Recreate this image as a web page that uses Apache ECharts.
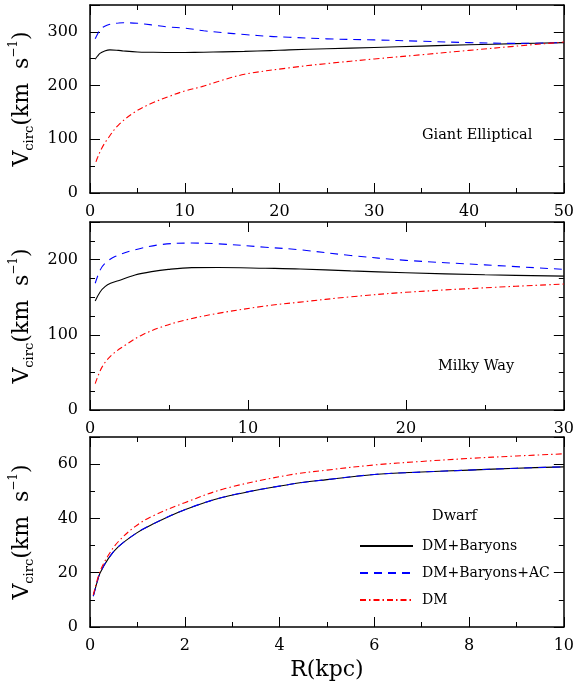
<!DOCTYPE html>
<html>
<head>
<meta charset="utf-8">
<script src="https://cdn.jsdelivr.net/npm/echarts@6/dist/echarts.min.js"></script>
<style>
html,body{margin:0;padding:0;background:#fff;}
#c{width:577px;height:686px;}
</style>
</head>
<body>
<div id="c"></div>
<script>
// ---- Data ----
const seriesNames = ['DM+Baryons', 'DM+Baryons+AC', 'DM'];
const panelLabels = ['Giant Elliptical', 'Milky Way', 'Dwarf'];

// Giant Elliptical
const geBaryonsR = [0.55, 0.8, 1.05, 1.5, 2.1, 3, 3.5, 5, 6.5, 8.3, 10, 12, 14, 16.3, 19, 21, 25, 30, 35, 40, 45, 50];
const geBaryonsV = [249, 255, 260, 264, 266.5, 265.5, 264.5, 262.5, 262, 261.7, 261.7, 262, 262.8, 263.6, 265, 266.5, 268.5, 271, 273.5, 276, 278, 280];
const geACR = [0.55, 0.8, 1.05, 1.5, 2.1, 3, 3.5, 5, 6.5, 8.3, 10, 12, 14, 16.3, 19, 21, 25, 30, 35, 40, 45, 50];
const geACV = [287, 296, 304, 310, 314, 316.5, 317, 316, 313, 309, 307, 302, 298.5, 295, 291.5, 290, 287, 285, 282.5, 280, 278.5, 280];
const geDMR = [0.63, 0.8, 1.23, 1.83, 3, 4.75, 6.5, 8.3, 10, 11.8, 13.5, 16.3, 21, 25, 30, 35, 40, 45, 50];
const geDMV = [58, 66, 83, 100, 126.5, 151, 167, 179.5, 190, 198, 207.5, 221, 233, 241, 249.5, 257.5, 265.5, 273.5, 281];

// Milky Way
const mwBaryonsR = [0.33, 0.64, 0.95, 1.3, 1.79, 2.85, 3.9, 4.96, 6.44, 8.1, 11.1, 13.3, 16.5, 20, 25, 30];
const mwBaryonsV = [145, 157, 164, 168.5, 172, 179.5, 184, 187, 189.3, 189.5, 188.5, 187.6, 185, 182.5, 179.8, 178];
const mwACR = [0.33, 0.64, 0.95, 1.58, 2.85, 4.5, 6.44, 8.1, 11.1, 13.3, 16.5, 20, 25, 30];
const mwACV = [168.5, 186, 195, 204, 213, 220, 222, 221, 216.5, 213, 205.5, 199, 193, 187];
const mwDMR = [0.33, 0.76, 1.37, 2.22, 3.27, 4.54, 6, 8.1, 11.1, 13.3, 16.5, 20, 25, 30];
const mwDMV = [35, 57, 73, 86, 99.5, 110.5, 119.5, 128.5, 138.3, 143.5, 150.5, 156.5, 162.5, 167.5];

// Dwarf
const dwBaryonsR = [0.07, 0.15, 0.21, 0.39, 0.6, 0.98, 1.3, 2, 2.85, 4.2, 5, 6, 7, 8, 9, 10];
const dwBaryonsV = [11.4, 16.5, 19.8, 25.3, 29.6, 34.6, 37.7, 43.2, 48, 52.5, 54.3, 56.2, 57.1, 57.8, 58.5, 59];
const dwACR = [0.07, 0.15, 0.21, 0.39, 0.6, 0.98, 1.3, 2, 2.85, 4.2, 5, 6, 7, 8, 9, 10];
const dwACV = [11.4, 16.5, 19.8, 25.3, 29.6, 34.6, 37.7, 43.2, 48, 52.5, 54.3, 56.2, 57.1, 57.8, 58.5, 59];
const dwDMR = [0.07, 0.21, 0.39, 0.6, 0.95, 1.3, 2, 2.85, 4.2, 5, 6, 7, 8, 9, 10];
const dwDMV = [11.8, 20.4, 26.5, 31.5, 37, 40.7, 45.8, 51, 56, 57.8, 59.7, 61, 62.1, 63, 63.8];

// Axis ranges / ticks
const xMax = [50, 30, 10];
const xMajor = [10, 10, 2];
const yMax = [350, 250, 70];
const yMajor = [100, 100, 20];
const yMinor = [50, 25, 10];

// ---- Chart ----
const FONT = 'DejaVu Serif';
const pair = (r, v) => r.map((x, i) => [x, v[i]]);
const AX = () => ({color: '#000', width: 1.5});
const TK = () => ({color: '#000', width: 1});

const grids = [
  {left: 90, width: 474, top: 5, height: 188},
  {left: 90, width: 474, top: 222, height: 188},
  {left: 90, width: 474, top: 437, height: 190}
];

const xAxis = [];
const yAxis = [];
for (let g = 0; g < 3; g++) {
  const mkX = (pos) => ({type: 'value', gridIndex: g, position: pos, min: 0, max: xMax[g], interval: xMajor[g],
    splitLine: {show: false}, minorSplitLine: {show: false},
    axisLine: {show: true, onZero: false, lineStyle: AX()},
    axisTick: {show: true, inside: true, length: 10, lineStyle: TK()},
    minorTick: {show: true, splitNumber: 2, length: 5, lineStyle: TK()}});
  const bottom = mkX('bottom');
  bottom.axisLabel = {margin: 11, color: '#000', fontFamily: FONT, fontSize: 16};
  if (g === 2) {
    Object.assign(bottom, {name: 'R(kpc)', nameLocation: 'middle', nameGap: 32,
      nameTextStyle: {fontFamily: FONT, fontSize: 22, color: '#000'}});
  }
  const top = mkX('top');
  top.axisLabel = {show: false};
  xAxis.push(bottom, top);

  const maj = yMajor[g];
  const mkY = (pos, interval, len, line) => ({type: 'value', gridIndex: g, position: pos,
    min: 0, max: yMax[g], interval: interval,
    splitLine: {show: false},
    axisLine: {show: line, onZero: false, lineStyle: AX()},
    axisTick: {show: true, inside: true, length: len, lineStyle: TK()},
    axisLabel: {show: false}});
  const yl = mkY('left', yMinor[g], 5, true);
  yl.axisLabel = {show: true, margin: 12, color: '#000', fontFamily: FONT, fontSize: 16,
    formatter: v => (v % maj === 0 ? String(v) : '')};
  Object.assign(yl, {
    name: '{v|V}{s|circ}{v|(km  s}{p|−1}{v|)}',
    nameLocation: 'middle', nameRotate: 90, nameGap: 54,
    nameTextStyle: {rich: {
      v: {fontFamily: FONT, fontSize: 22, color: '#000', lineHeight: 28, verticalAlign: 'middle'},
      s: {fontFamily: FONT, fontSize: 13, color: '#000', lineHeight: 14, verticalAlign: 'bottom'},
      p: {fontFamily: FONT, fontSize: 12, color: '#000', lineHeight: 14, verticalAlign: 'top'}
    }}});
  yAxis.push(yl,
    mkY('left', maj, 10, false),
    mkY('right', yMinor[g], 5, true),
    mkY('right', maj, 10, false));
}

const styles = [
  {color: '#000000', lineStyle: {color: '#000000', width: 1.1, type: 'solid'}},
  {color: '#0000ff', lineStyle: {color: '#0000ff', width: 1.1, type: [8, 6]}},
  {color: '#ff0000', lineStyle: {color: '#ff0000', width: 1.1, type: [6, 3, 1.5, 3]}}
];
const panelData = [
  [pair(geBaryonsR, geBaryonsV), pair(geACR, geACV), pair(geDMR, geDMV)],
  [pair(mwBaryonsR, mwBaryonsV), pair(mwACR, mwACV), pair(mwDMR, mwDMV)],
  [pair(dwBaryonsR, dwBaryonsV), pair(dwACR, dwACV), pair(dwDMR, dwDMV)]
];
const series = [];
for (let g = 0; g < 3; g++) {
  for (let k = 0; k < 3; k++) {
    series.push({
      type: 'line', name: seriesNames[k], xAxisIndex: g * 2, yAxisIndex: g * 4,
      data: panelData[g][k], symbol: 'none', showSymbol: false,
      smooth: 0.35,
      itemStyle: {color: styles[k].color}, lineStyle: styles[k].lineStyle
    });
  }
}

const chart = echarts.init(document.getElementById('c'));
chart.setOption({
  animation: false,
  grid: grids,
  xAxis: xAxis,
  yAxis: yAxis,
  legend: {
    data: seriesNames, orient: 'vertical', left: 354, top: 534,
    itemWidth: 53, itemHeight: 14, itemGap: 13,
    itemStyle: {opacity: 0},
    textStyle: {fontFamily: FONT, fontSize: 14, lineHeight: 14, color: '#000', padding: [0, 0, 0, 4]},
    selectedMode: false
  },
  graphic: [
    {type: 'text', left: 422, top: 128, style: {text: panelLabels[0], font: '14.5px "DejaVu Serif"', fill: '#000'}},
    {type: 'text', left: 438, top: 359, style: {text: panelLabels[1], font: '14.5px "DejaVu Serif"', fill: '#000'}},
    {type: 'text', left: 432, top: 509, style: {text: panelLabels[2], font: '14.5px "DejaVu Serif"', fill: '#000'}}
  ],
  series: series
});
</script>
</body>
</html>
